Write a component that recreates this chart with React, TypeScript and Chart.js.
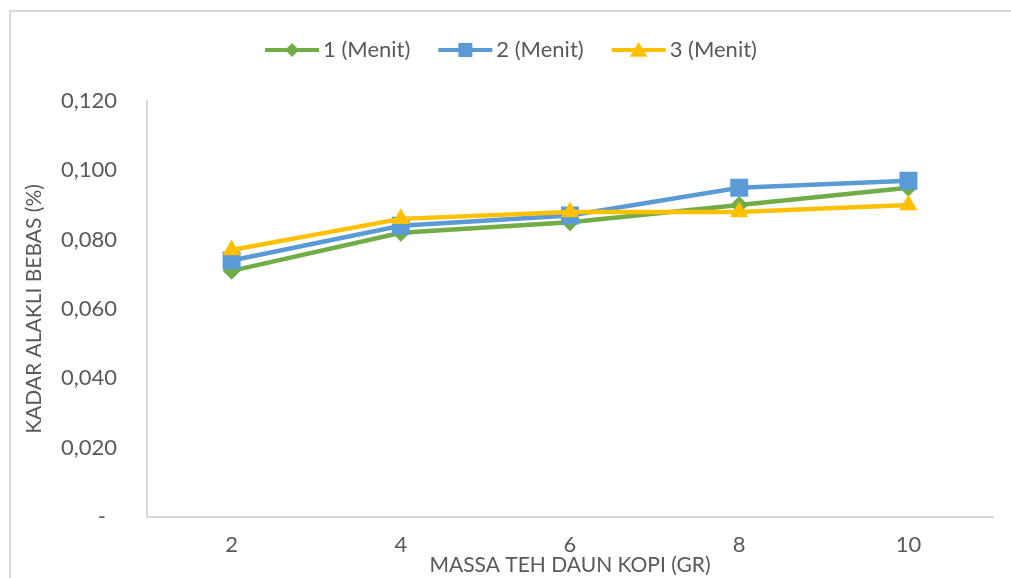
import React, { useEffect, useRef } from 'react';
import { Chart, registerables } from 'chart.js';

Chart.register(...registerables);

const categories = ['2', '4', '6', '8', '10'];
const series1 = [0.071, 0.082, 0.085, 0.09, 0.095];
const series2 = [0.074, 0.084, 0.087, 0.095, 0.097];
const series3 = [0.077, 0.086, 0.088, 0.088, 0.09];
const seriesNames = ['1 (Menit)', '2 (Menit)', '3 (Menit)'];
const seriesColors = ['#70AD47', '#5B9BD5', '#FFC000'];
const yTickLabels = ['-', '0,020', '0,040', '0,060', '0,080', '0,100', '0,120'];
const xTitle = 'MASSA TEH DAUN KOPI (GR)';
const yTitle = 'KADAR ALAKLI BEBAS (%)';

const FONT = 'Lato, "Open Sans", sans-serif';
const TEXT = '#595959';
const GRIDC = '#D9D9D9';

const frame = {
  id: 'frame',
  beforeDraw(chart: any) {
    const ctx = chart.ctx;
    ctx.save();
    ctx.fillStyle = '#ffffff';
    ctx.fillRect(0, 0, chart.width, chart.height);
    ctx.strokeStyle = GRIDC;
    ctx.lineWidth = 2;
    ctx.strokeRect(10, 11, chart.width + 20, chart.height + 20);
    ctx.restore();
  },
};

function drawMarker(ctx: any, style: string, x: number, y: number, s: number) {
  ctx.beginPath();
  if (style === 'rectRot') {
    ctx.moveTo(x - s, y);
    ctx.lineTo(x, y - s);
    ctx.lineTo(x + s, y);
    ctx.lineTo(x, y + s);
  } else if (style === 'rect') {
    ctx.rect(x - s, y - s, 2 * s, 2 * s);
  } else {
    ctx.moveTo(x, y - s);
    ctx.lineTo(x + s * 1.1, y + s * 0.85);
    ctx.lineTo(x - s * 1.1, y + s * 0.85);
  }
  ctx.closePath();
  ctx.fill();
}

const lineLegend = {
  id: 'lineLegend',
  afterDraw(chart: any) {
    const ctx = chart.ctx;
    ctx.save();
    ctx.font = `22px ${FONT}`;
    const lineW = 54;
    const gap = 4;
    const itemGap = 28;
    const widths = seriesNames.map((n) => lineW + gap + ctx.measureText(n).width);
    const total = widths.reduce((a, b) => a + b, 0) + itemGap * (widths.length - 1);
    let x = 511 - total / 2;
    const y = 50;
    const styles = ['rectRot', 'rect', 'triangle'];
    const sizes = [7, 7, 8];
    chart.data.datasets.forEach((ds: any, i: number) => {
      ctx.strokeStyle = ds.borderColor;
      ctx.lineWidth = 4;
      ctx.beginPath();
      ctx.moveTo(x, y);
      ctx.lineTo(x + lineW, y);
      ctx.stroke();
      ctx.fillStyle = ds.borderColor;
      drawMarker(ctx, styles[i], x + lineW / 2, y, sizes[i]);
      ctx.fillStyle = TEXT;
      ctx.textAlign = 'left';
      ctx.textBaseline = 'middle';
      ctx.fillText(ds.label, x + lineW + gap, y);
      x += widths[i] + itemGap;
    });
    ctx.restore();
  },
};

export default function App() {
  const ref = useRef<HTMLCanvasElement>(null);
  useEffect(() => {
    if (!ref.current) return;
    const chart = new Chart(ref.current, {
      type: 'line',
      data: {
        labels: categories,
        datasets: [
          {
            label: seriesNames[0],
            data: series1,
            borderColor: seriesColors[0],
            backgroundColor: seriesColors[0],
            borderWidth: 4.5,
            pointStyle: 'rectRot',
            pointRadius: 9,
            pointBorderWidth: 0,
            tension: 0,
            order: 2,
          },
          {
            label: seriesNames[1],
            data: series2,
            borderColor: seriesColors[1],
            backgroundColor: seriesColors[1],
            borderWidth: 4.5,
            pointStyle: 'rect',
            pointRadius: 12.7,
            pointBorderWidth: 0,
            tension: 0,
            order: 1,
          },
          {
            label: seriesNames[2],
            data: series3,
            borderColor: seriesColors[2],
            backgroundColor: seriesColors[2],
            borderWidth: 4.5,
            pointStyle: 'triangle',
            pointRadius: 10.5,
            pointBorderWidth: 0,
            tension: 0,
            order: 0,
          },
        ],
      },
      options: {
        responsive: false,
        animation: false,
        layout: { padding: { top: 101, left: 10, right: 18, bottom: 0 } },
        plugins: {
          legend: { display: false },
          tooltip: { enabled: false },
        },
        scales: {
          x: {
            type: 'category',
            offset: true,
            grid: { display: false, drawTicks: false },
            border: { display: true, color: GRIDC, width: 2 },
            ticks: { color: TEXT, font: { family: FONT, size: 22 }, padding: 15 },
            title: {
              display: true,
              text: xTitle,
              color: TEXT,
              font: { family: FONT, size: 21 },
              padding: { top: 0, bottom: 0 },
            },
            afterFit(scale: any) {
              scale.height = 61;
            },
          },
          y: {
            min: 0,
            max: 0.12,
            grid: { display: false, drawTicks: false },
            border: { display: true, color: GRIDC, width: 2 },
            ticks: {
              stepSize: 0.02,
              color: TEXT,
              font: { family: FONT, size: 22 },
              padding: 30,
              callback: (_v: any, i: number) => (i === 0 ? yTickLabels[0] + '\u2002' : yTickLabels[i]),
            },
            title: {
              display: true,
              text: yTitle,
              color: TEXT,
              font: { family: FONT, size: 21 },
              padding: { top: 12, bottom: 0 },
            },
            afterFit(scale: any) {
              scale.width = 137;
            },
          },
        },
      },
      plugins: [frame, lineLegend],
    });
    return () => chart.destroy();
  }, []);
  return (
    <div style={{ position: 'absolute', left: 0, top: 0, width: 1011, height: 578 }}>
      <canvas ref={ref} width={1011} height={578} />
    </div>
  );
}
